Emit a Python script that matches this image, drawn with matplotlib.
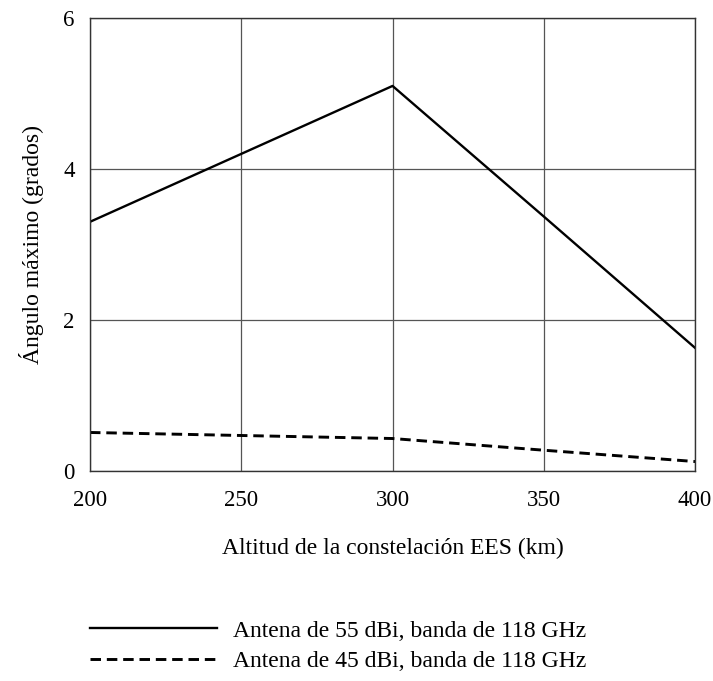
import numpy as np
import matplotlib
matplotlib.use("Agg")
import matplotlib.pyplot as plt

plt.rcParams['font.family'] = ['Liberation Serif', 'DejaVu Serif']

# altitudes (km)
altitudes = [200, 250, 300, 350, 400]
# maximum angle (degrees)
ang_55dbi = [3.30, 4.20, 5.10, 3.37, 1.63]
ang_45dbi = [0.51, 0.47, 0.43, 0.275, 0.125]
labels = ["Antena de 55 dBi, banda de 118 GHz",
          "Antena de 45 dBi, banda de 118 GHz"]
x_ticks = [200, 250, 300, 350, 400]
y_ticks = [0, 2, 4, 6]


def main():
    fs = 17
    fig = plt.figure(figsize=(7.13, 6.81), dpi=100)
    ax = fig.add_axes([0.1262, 0.3084, 0.8487, 0.6652])

    ax.plot(altitudes, ang_55dbi, color="black", lw=1.7, label=labels[0])
    ax.plot(altitudes, ang_45dbi, color="black", lw=2.1,
            linestyle=(0, (3.6, 2.0)), label=labels[1])

    ax.set_xlim(200, 400)
    ax.set_ylim(0, 6)
    ax.set_xticks(x_ticks)
    ax.set_yticks(y_ticks)
    ax.grid(True, color="#555555", lw=0.9)
    ax.tick_params(length=0, labelsize=16.5)
    ax.tick_params(axis="y", pad=11)
    ax.tick_params(axis="x", pad=14)
    for sp in ax.spines.values():
        sp.set_color("#333333")
        sp.set_linewidth(1.0)

    ax.set_xlabel("Altitud de la constelación EES (km)", fontsize=fs, labelpad=19)
    ax.set_ylabel("Ángulo máximo (grados)", fontsize=fs, labelpad=14)

    fig.legend(loc="center left", bbox_to_anchor=(0.1262, 0.0514),
               bbox_transform=fig.transFigure, frameon=False, fontsize=fs,
               handlelength=5.4, handletextpad=0.64, labelspacing=0.36,
               borderpad=0, borderaxespad=0)

    fig.savefig("out.png", dpi=100)


if __name__ == '__main__':
    main()
